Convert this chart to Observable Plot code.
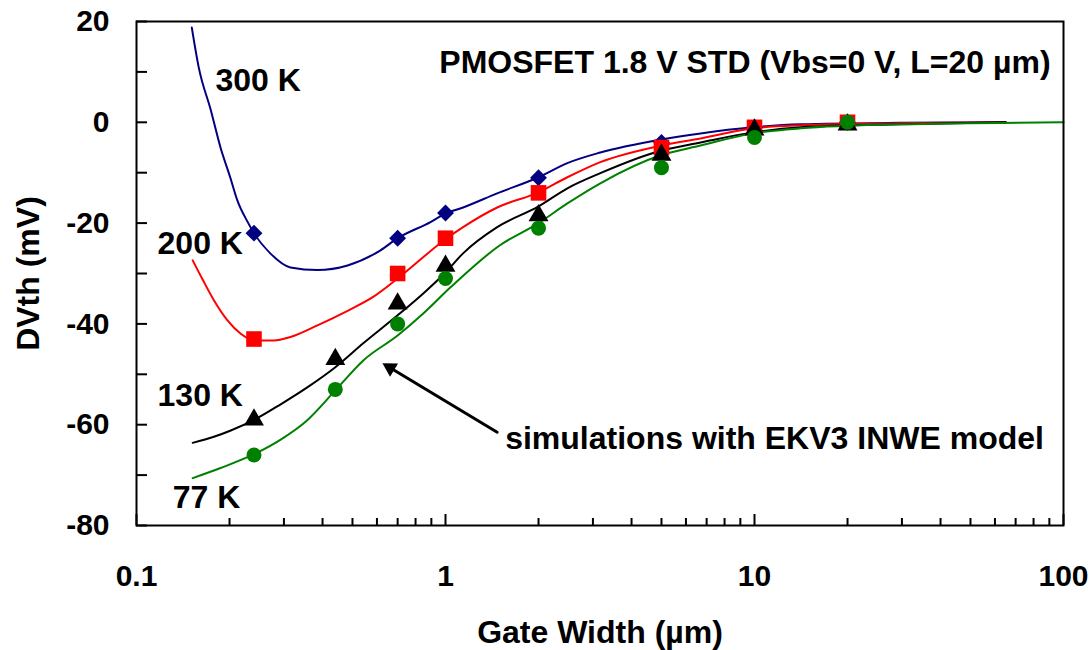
<!DOCTYPE html>
<html>
<head>
<meta charset="utf-8">
<script src="https://cdn.jsdelivr.net/npm/d3@7"></script>
<script src="https://cdn.jsdelivr.net/npm/@observablehq/plot@0.6"></script>
<style>
  html, body { margin: 0; padding: 0; background: #fff; }
</style>
</head>
<body>
<div id="chart"></div>
<script>
const font = "'Liberation Sans', Arial, Helvetica, sans-serif";

// Measured threshold-voltage shift (mV) versus gate width (µm), per temperature
const w300 = [0.24, 0.7, 1, 2, 5, 10, 20];
const dv300 = [-22, -23, -18, -11, -4, -1, 0];
const w200 = [0.24, 0.7, 1, 2, 5, 10, 20];
const dv200 = [-43, -30, -23, -14, -5, -1, 0];
const w130 = [0.24, 0.44, 0.7, 1, 2, 5, 10, 20];
const dv130 = [-59, -47, -36, -28.5, -18.5, -6.5, -1.5, -0.5];
const w77 = [0.24, 0.44, 0.7, 1, 2, 5, 10, 20];
const dv77 = [-66, -53, -40, -31, -21, -9, -3, 0];

// EKV3 INWE model simulations
const s300w = [0.151, 0.159, 0.174, 0.187, 0.201, 0.212, 0.230, 0.24, 0.271, 0.315, 0.385, 0.482, 0.616, 0.7, 0.894, 1.0, 1.14, 1.47, 2.0, 2.48, 3.17, 5.0, 6.69, 9.9, 14.1, 29.6, 65];
const s300v = [18.8, 10.9, 2.4, -5.0, -10.9, -15.5, -20.0, -22.0, -26.0, -28.8, -29.3, -28.4, -25.4, -23.0, -19.8, -18.1, -16.9, -14.1, -10.9, -8.1, -6.0, -3.4, -2.2, -1.0, -0.4, -0.1, 0];
const s200w = [0.152, 0.164, 0.178, 0.197, 0.217, 0.241, 0.278, 0.315, 0.385, 0.482, 0.585, 0.7, 1.0, 1.14, 1.47, 2.0, 2.48, 3.17, 5.0, 6.69, 9.9, 14.1, 29.6, 65];
const s200v = [-27.4, -31.3, -35.3, -39.3, -41.9, -43.3, -43.3, -42.6, -40.3, -37.4, -34.6, -31.0, -23.2, -20.8, -16.9, -13.9, -10.9, -7.9, -4.6, -3.2, -1.2, -0.6, -0.2, 0];
const s130w = [0.152, 0.178, 0.201, 0.241, 0.292, 0.357, 0.44, 0.543, 0.7, 0.849, 1.0, 1.14, 1.47, 2.0, 2.48, 3.17, 5.0, 6.69, 9.9, 14.1, 29.6, 65];
const s130v = [-63.6, -62.4, -61.2, -59.0, -56.0, -52.6, -48.6, -43.8, -38.3, -33.9, -29.8, -26.0, -20.8, -16.7, -13.1, -10.1, -5.6, -4.0, -2.0, -1.0, -0.4, 0];
const s77w = [0.152, 0.187, 0.241, 0.292, 0.357, 0.44, 0.543, 0.7, 0.849, 1.04, 1.5, 2.0, 2.48, 3.17, 5.0, 6.69, 9.9, 14.1, 29.6, 100];
const s77v = [-70.6, -68.6, -65.8, -63.0, -59.1, -53.2, -47.2, -42.3, -37.9, -32.7, -24.4, -20.0, -16.1, -12.1, -6.5, -4.6, -2.2, -1.2, -0.4, 0];

// Axis ticks
const xMajor = [0.1, 1, 10, 100];
const xTickLabels = ["0.1", "1", "10", "100"];
const xMinor = [2, 3, 4, 5, 6, 7, 8, 9].flatMap(m => [0.1 * m, m, 10 * m]);
const yMajor = [20, 0, -20, -40, -60, -80];
const yTickLabels = ["20", "0", "-20", "-40", "-60", "-80"];
const yAll = [20, 10, 0, -10, -20, -30, -40, -50, -60, -70, -80];

// Annotations
const tempLabels = [
  {text: "300 K", x: 0.180, y: 8.3},
  {text: "200 K", x: 0.117, y: -24.0},
  {text: "130 K", x: 0.117, y: -54.2},
  {text: "77 K", x: 0.131, y: -74.4}
];
const title = "PMOSFET 1.8 V STD (Vbs=0 V, L=20 µm)";
const simNote = "simulations with EKV3 INWE model";
const simArrow = [{x1: 1.47, y1: -61.5, x2: 0.625, y2: -47.8}];

const series = [
  {name: "300 K", color: "#000080", symbol: "diamond2", r: 7.6, w: w300, v: dv300, sw: s300w, sv: s300v},
  {name: "200 K", color: "#ff0000", symbol: "square", r: 8.8, w: w200, v: dv200, sw: s200w, sv: s200v},
  {name: "130 K", color: "#000000", symbol: "triangle", r: 7.4, w: w130, v: dv130, sw: s130w, sv: s130v},
  {name: "77 K", color: "#008000", symbol: "circle", r: 7.5, w: w77, v: dv77, sw: s77w, sv: s77v}
];

const lineMarks = series.map(s =>
  Plot.line(s.sw.map((w, i) => ({w, v: s.sv[i]})), {
    x: "w", y: "v", stroke: s.color, strokeWidth: 2, curve: "monotone-x"
  })
);
const dotMarks = series.map(s =>
  Plot.dot(s.w.map((w, i) => ({w, v: s.v[i]})), {
    x: "w", y: "v", symbol: s.symbol, r: s.r, fill: s.color, stroke: "none"
  })
);

// arrow shaft stops short of the tip; a rotated solid triangle forms the head
const headR = 5.8;
const headBack = 2 * Math.sqrt((Math.PI * headR * headR) / (3 * Math.sqrt(3)));
const arrowMarks = [
  Plot.arrow(simArrow, {x1: "x1", y1: "y1", x2: "x2", y2: "y2", stroke: "#000", strokeWidth: 3, headLength: 0, insetEnd: headBack * 1.1}),
  Plot.dot(simArrow, {
    x: "x2", y: "y2", symbol: "triangle", r: headR, fill: "#000", stroke: "none",
    rotate: -59.3, dx: headBack * 0.859, dy: headBack * 0.511
  })
];

const big = {fontSize: 32};

const chart = Plot.plot({
  width: 1092,
  height: 650,
  marginLeft: 136,
  marginRight: 29,
  marginTop: 21,
  marginBottom: 125,
  style: {fontFamily: font, fontSize: "30px", fontWeight: "bold", background: "#fff", color: "#000", overflow: "visible"},
  x: {type: "log", domain: [0.1, 100]},
  y: {domain: [-80, 20]},
  marks: [
    // inward tick marks
    Plot.axisX(xMinor, {tickSize: -7, strokeWidth: 2, fill: "none", label: null}),
    Plot.axisX(xMajor, {tickSize: -11, strokeWidth: 2, fill: "none", label: null}),
    Plot.axisY(yAll, {tickSize: -11, strokeWidth: 2, fill: "none", label: null}),
    // tick labels
    Plot.axisX(xMajor, {tickSize: 0, tickPadding: 39, tickFormat: d => xTickLabels[xMajor.indexOf(d)], label: null}),
    Plot.axisY(yMajor, {tickSize: 0, tickPadding: 27, tickFormat: d => yTickLabels[yMajor.indexOf(d)], label: null}),
    // axis titles
    Plot.text(["Gate Width (µm)"], {...big, frameAnchor: "bottom", dy: 107, lineAnchor: "middle", textAnchor: "middle"}),
    Plot.text(["DVth (mV)"], {...big, frameAnchor: "left", dx: -108, rotate: -90, lineAnchor: "middle", textAnchor: "middle"}),
    ...lineMarks,
    ...dotMarks,
    Plot.frame({stroke: "#000", strokeWidth: 2}),
    Plot.text(tempLabels, {...big, x: "x", y: "y", text: "text", textAnchor: "start", lineAnchor: "middle"}),
    Plot.text([title], {...big, x: 90.8, y: 11.9, textAnchor: "end", lineAnchor: "middle"}),
    Plot.text([simNote], {...big, x: 1.56, y: -62.7, textAnchor: "start", lineAnchor: "middle"}),
    ...arrowMarks
  ]
});

document.getElementById("chart").appendChild(chart);
</script>
</body>
</html>
